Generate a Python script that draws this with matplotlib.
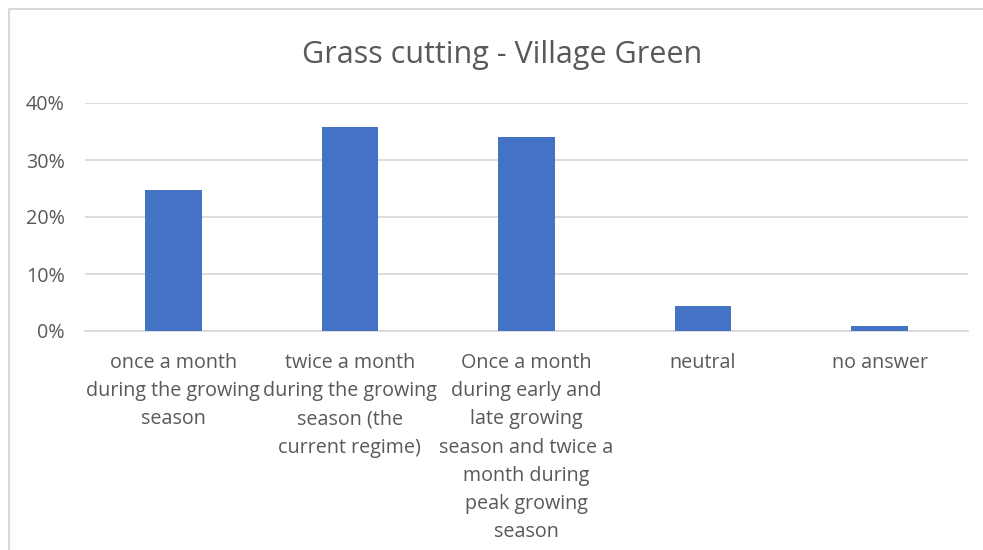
import matplotlib.pyplot as plt
from matplotlib.patches import Rectangle
from matplotlib.ticker import FuncFormatter

categories = [
    "once a month\nduring the growing\nseason",
    "twice a month\nduring the growing\nseason (the\ncurrent regime)",
    "Once a month\nduring early and\nlate growing\nseason and twice a\nmonth during\npeak growing\nseason",
    "neutral",
    "no answer",
]
values = [0.247, 0.358, 0.340, 0.043, 0.009]
y_ticks = [0.0, 0.1, 0.2, 0.3, 0.4]

text_color = '#595959'
bar_color = '#4472C4'
grid_color = '#d9d9d9'

plt.rcParams['font.family'] = ['Open Sans', 'DejaVu Sans']

fig = plt.figure(figsize=(9.83, 5.5), dpi=100)
ax = fig.add_axes([85 / 983, 1 - 331 / 550, (968 - 85) / 983, (331 - 103) / 550])

x = list(range(len(categories)))
ax.bar(x, values, width=0.32, color=bar_color, zorder=3)

ax.set_xlim(-0.5, len(categories) - 0.5)
ax.set_ylim(0, 0.4)
ax.set_yticks(y_ticks)
ax.yaxis.set_major_formatter(FuncFormatter(lambda v, p: f"{v * 100:.0f}%"))
ax.yaxis.grid(True, color=grid_color, linewidth=1.3, zorder=0)
ax.set_axisbelow(True)

ax.set_xticks(x)
ax.set_xticklabels(categories, linespacing=1.54)
ax.tick_params(axis='x', length=0, pad=16, labelsize=14.2, colors=text_color)
ax.tick_params(axis='y', length=0, pad=14.4, labelsize=14.2, colors=text_color)

for s in ['top', 'right', 'left']:
    ax.spines[s].set_visible(False)
ax.spines['bottom'].set_color(grid_color)
ax.spines['bottom'].set_linewidth(1.3)

fig.text(502 / 983, 1 - 55 / 550, "Grass cutting - Village Green",
         ha='center', va='center', fontsize=22, color=text_color)

# chart frame
fig.patches.append(Rectangle((9 / 983, -0.1), 1.2, 1 - 9 / 550 + 0.1,
                             transform=fig.transFigure, fill=False,
                             edgecolor='#d9d9d9', linewidth=1.5))

fig.savefig('out.png', dpi=100)
